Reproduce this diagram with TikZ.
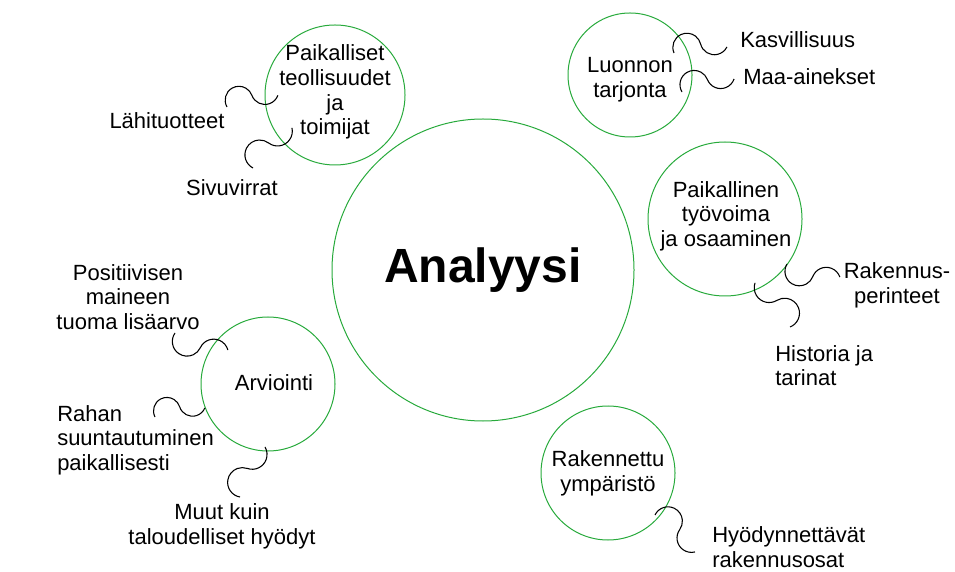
\documentclass[tikz,border=0pt]{standalone}
\usepackage{fontspec}
\setmainfont{Liberation Sans}
\definecolor{ringgreen}{RGB}{40,170,60}
\newcommand\squiggle[5]{%
  \begin{scope}[shift={(#1,#2)}, rotate=#3, yscale=#4]
    \draw[squig] (0,0) arc[start angle=210, end angle=20, radius=#5]
                       arc[start angle=200, end angle=340, radius=#5];
  \end{scope}}
\begin{document}
\begin{tikzpicture}[x=0.75pt,y=0.75pt,
  ring/.style={draw=ringgreen, line width=0.75pt, circle, inner sep=0pt},
  lbl/.style={font=\fontsize{16.5}{18.5}\selectfont, inner sep=0pt},
  squig/.style={draw=black, line width=0.8pt}]
\useasboundingbox (0,0) rectangle (955,571);
% circles
\node[ring, minimum size=226.5pt] (big)  at (483,301) {};
\node[ring, minimum size=105pt]   (paik) at (335,476) {};
\node[ring, minimum size=93pt]    (luon) at (630,496) {};
\node[ring, minimum size=115.5pt] (tyov) at (725,352) {};
\node[ring, minimum size=100.5pt] (arv)  at (268,187) {};
\node[ring, minimum size=100.5pt] (rak)  at (608,98) {};
% texts
\node[font=\fontsize{36}{40}\selectfont\bfseries, inner sep=0pt] (analyysi) at (483,301) {Analyysi};
\node[lbl, align=center] (paikT) at (335,479) {Paikalliset\\teollisuudet\\ja\\toimijat};
\node[lbl] (lahi) at (167,450) {Lähituotteet};
\node[lbl] (sivu) at (232,383) {Sivuvirrat};
\node[lbl, align=center] (luonT) at (630,491) {Luonnon\\tarjonta};
\node[lbl, anchor=west] (kasv) at (740,531) {Kasvillisuus};
\node[lbl, anchor=west] (maa) at (743,494) {Maa-ainekset};
\node[lbl, align=center] (tyovT) at (726,355) {Paikallinen\\työvoima\\ja osaaminen};
\node[lbl, align=center] (rakp) at (897,286) {Rakennus-\\perinteet};
\node[lbl, align=left, anchor=west] (hist) at (775,205.5) {Historia ja\\tarinat};
\node[lbl, align=center] (posit) at (128,274) {Positiivisen\\maineen\\tuoma lisäarvo};
\node[lbl] (arvT) at (274,188) {Arviointi};
\node[lbl, align=left, anchor=west] (rahan) at (57,131) {Rahan\\suuntautuminen\\paikallisesti};
\node[lbl, align=center] (muut) at (222,45) {Muut kuin\\taloudelliset hyödyt};
\node[lbl, align=center] (rakT) at (608,98) {Rakennettu\\ympäristö};
\node[lbl, align=left, anchor=west] (hyod) at (712,24) {Hyödynnettävät\\rakennusosat};
% squiggles
\squiggle{227}{464}{0}{1}{13.8}
\squiggle{253}{403}{33}{1}{14.8}
\squiggle{674}{518}{-6.3}{1}{14.1}
\squiggle{682}{479}{1.2}{1}{14.2}
\squiggle{787}{307}{-1}{-1}{14.4}
\squiggle{790}{244}{141.3}{-1}{14.9}
\squiggle{175}{238}{-5}{-1}{14.7}
\squiggle{155}{154}{-2.6}{1}{13.4}
\squiggle{240}{74}{50.6}{1}{14.8}
\squiggle{655}{56}{-55.6}{1}{14.4}
\end{tikzpicture}
\end{document}
